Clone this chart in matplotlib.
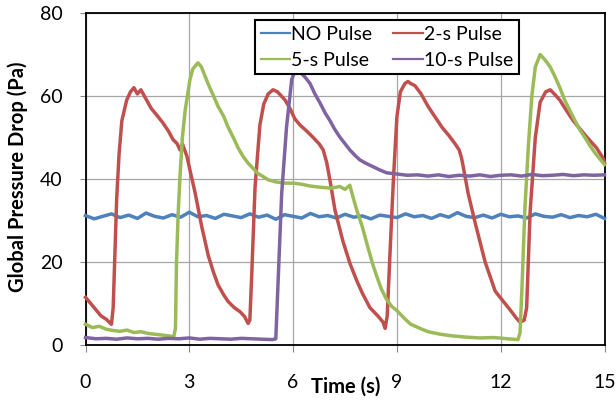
import numpy as np
import matplotlib.pyplot as plt
from matplotlib.lines import Line2D

plt.rcParams['font.family'] = ['Lato', 'DejaVu Sans']

# Pressure drop traces (Pa) against time (s)
no_pulse_t = np.arange(0, 15.01, 0.25)
no_pulse_v = [31.2, 30.4, 31.0, 31.6, 30.7, 31.3, 30.5, 31.8, 31.0, 30.6,
              31.4, 30.8, 32.0, 30.9, 31.2, 30.5, 31.5, 31.1, 30.7, 31.6,
              30.8, 31.3, 30.3, 31.4, 31.0, 30.6, 31.7, 30.9, 31.2, 30.6,
              31.5, 30.8, 31.1, 30.4, 31.3, 31.0, 30.7, 31.6, 30.9, 31.2,
              30.5, 31.4, 30.8, 31.9, 31.0, 30.7, 31.3, 30.6, 31.5, 30.9,
              31.1, 30.6, 31.6, 31.0, 30.8, 31.4, 30.7, 31.2, 30.9, 31.5, 30.5]

pulse2_t = [0, 0.15, 0.3, 0.45, 0.6, 0.75, 0.8, 0.85, 0.9, 0.97, 1.05, 1.19, 1.3, 1.4,
            1.5, 1.6, 1.7, 1.8, 1.9, 2.05, 2.24, 2.4, 2.53, 2.65, 2.73, 2.8, 2.93, 3.05,
            3.16, 3.36, 3.55, 3.7, 3.83, 4.0, 4.12, 4.3, 4.47, 4.6, 4.7, 4.75, 4.8, 4.9,
            5.04, 5.15, 5.28, 5.42, 5.55, 5.77, 5.91, 6.05, 6.2, 6.4, 6.58, 6.75, 6.87,
            6.97, 7.07, 7.21, 7.44, 7.65, 7.84, 8.0, 8.22, 8.45, 8.6, 8.66, 8.72, 8.8,
            8.9, 9.0, 9.1, 9.23, 9.32, 9.4, 9.52, 9.7, 9.9, 10.1, 10.3, 10.5, 10.68,
            10.8, 10.87, 10.95, 11.06, 11.26, 11.55, 11.84, 11.98, 12.27, 12.45, 12.56,
            12.68, 12.75, 12.85, 13.0, 13.14, 13.3, 13.43, 13.55, 13.71, 13.9, 14.1,
            14.3, 14.5, 14.77, 14.96, 15.0]
pulse2_v = [11.5, 10, 8.5, 7, 6.2, 5, 9, 22, 35, 46, 54, 59, 61, 62,
            60.5, 61.5, 60, 58.5, 57, 55.5, 53.5, 51.5, 49.5, 48.5, 47, 48.5, 45.5, 41,
            37, 28.5, 21.5, 17.5, 14.5, 12, 10.5, 9, 8, 6.8, 5.2, 6, 16, 38,
            53, 58, 60.5, 61.5, 61, 59, 57, 54.5, 53, 51.5, 50, 48.5, 47,
            44, 39.5, 32.5, 25, 19.5, 15.5, 12.5, 9, 7, 5.5, 4, 7, 22,
            40, 55, 61, 63, 63.5, 63, 62.5, 60.5, 57.5, 55, 52.5, 50.5, 48.5,
            47, 45, 41.5, 36.5, 29.5, 20, 13, 11.5, 8.5, 6.5, 5.5,
            6, 9, 32, 50, 58.5, 61, 61.5, 60.5, 59, 56.5, 54,
            52, 50, 47.5, 45, 44]

pulse5_t = [0, 0.2, 0.4, 0.6, 0.8, 1.0, 1.2, 1.4, 1.6, 1.8, 2.0, 2.2, 2.4, 2.55, 2.6,
            2.63, 2.68, 2.73, 2.8, 2.88, 3.02, 3.1, 3.25, 3.35, 3.54, 3.7, 3.83, 4.0,
            4.12, 4.3, 4.41, 4.55, 4.7, 4.85, 4.99, 5.15, 5.28, 5.5, 5.77, 6.0, 6.2,
            6.5, 6.8, 7.1, 7.35, 7.5, 7.64, 7.72, 7.84, 8.0, 8.13, 8.3, 8.42, 8.55,
            8.7, 8.85, 9.0, 9.23, 9.4, 9.67, 9.9, 10.25, 10.6, 11.0, 11.4, 11.8, 12.2,
            12.5, 12.56, 12.62, 12.7, 12.8, 12.9, 13.0, 13.14, 13.3, 13.43, 13.55,
            13.71, 13.85, 14.0, 14.15, 14.29, 14.45, 14.58, 14.75, 14.9, 15.0]
pulse5_v = [5, 4.2, 4.5, 3.8, 3.5, 3.3, 3.6, 3.0, 3.2, 2.8, 2.6, 2.4, 2.2, 2.0, 4,
            20, 32, 40.5, 50, 56.5, 64, 66.5, 68, 67, 63, 60, 57.5, 55,
            52.5, 49.5, 47.5, 45.5, 43.8, 42.5, 41.3, 40.5, 39.8, 39.3, 39, 39, 38.8,
            38.3, 38, 37.8, 38.2, 37.5, 38.5, 36, 32.5, 28.5, 24.5, 19.5, 16.5, 13.5,
            11, 9.3, 8.3, 6.3, 5, 4, 3.2, 2.6, 2.2, 1.9, 1.7, 1.8, 1.5,
            1.3, 3, 15, 33, 48, 60, 67, 70, 68.5, 67, 65,
            62, 59, 56.5, 54, 51.8, 49.8, 48, 46, 44.5, 43.5]

pulse10_t = [0, 0.3, 0.6, 0.9, 1.2, 1.5, 1.8, 2.1, 2.4, 2.7, 3.0, 3.3, 3.6, 3.9, 4.2,
             4.5, 4.8, 5.1, 5.4, 5.5, 5.57, 5.67, 5.81, 5.96, 6.08, 6.2, 6.35, 6.49,
             6.63, 6.78, 6.92, 7.07, 7.2, 7.36, 7.5, 7.64, 7.8, 7.93, 8.1, 8.3, 8.5,
             8.7, 9.0, 9.3, 9.6, 9.9, 10.2, 10.5, 10.8, 11.1, 11.4, 11.7, 12.0, 12.3,
             12.6, 12.9, 13.2, 13.5, 13.8, 14.1, 14.4, 14.7, 15.0]
pulse10_v = [1.8, 1.5, 1.6, 1.4, 1.7, 1.5, 1.6, 1.4, 1.6, 1.5, 1.7, 1.4, 1.6, 1.5, 1.4,
             1.6, 1.5, 1.4, 1.3, 1.5, 16, 36.5, 52.5, 64, 66.5, 65.8, 64.5, 63,
             60.5, 58.3, 56, 54, 52, 50, 48.5, 47, 45.6, 44.6, 43.8, 43, 42.2,
             41.5, 41.2, 40.9, 41, 40.7, 41, 40.6, 40.9, 40.7, 41, 40.6, 40.9, 41,
             40.7, 41.1, 40.8, 40.9, 41.1, 40.8, 41, 40.9, 41]

labels = ['NO Pulse', '2-s Pulse', '5-s Pulse', '10-s Pulse']
colors = ['#4F81BD', '#C0504D', '#9BBB59', '#8064A2']

fig = plt.figure(figsize=(6.16, 4.0), dpi=100)
ax = fig.add_axes([85.5 / 616, 55 / 400, 519 / 616, 332 / 400])

series = [(no_pulse_t, no_pulse_v), (pulse2_t, pulse2_v),
          (pulse5_t, pulse5_v), (pulse10_t, pulse10_v)]
for (t, v), c in zip(series, colors):
    ax.plot(t, v, color=c, lw=2.5, solid_joinstyle='round', clip_on=False, zorder=3)

ax.set_xlim(0, 15)
ax.set_ylim(0, 80)
ax.set_xticks(np.arange(0, 16, 3))
ax.set_yticks(np.arange(0, 81, 20))
ax.grid(True, color='#a6a6a6', lw=0.9)
ax.set_axisbelow(True)
for s in ax.spines.values():
    s.set_color('black')
    s.set_linewidth(1.3)
ax.tick_params(axis='x', length=5, color='#888888', pad=16, labelsize=14)
ax.tick_params(axis='y', length=4.5, color='#888888', pad=12, labelsize=14)

fig.text(346 / 616, 1 - 387 / 400, 'Time (s)', ha='center', va='center',
         fontsize=14.5, fontweight='bold')
fig.text(18 / 616, 1 - 177 / 400, 'Global Pressure Drop (Pa)', ha='center',
         va='center', rotation=90, fontsize=14.5, fontweight='bold')

handles = [Line2D([], [], color=c, lw=1.6) for c in colors]
# column-wise order so rows read NO/2-s and 5-s/10-s
order = [0, 2, 1, 3]
leg = ax.legend([handles[i] for i in order], [labels[i] for i in order], ncol=2,
                loc='upper left', bbox_to_anchor=(0.3266, 0.979), borderaxespad=0,
                fancybox=False, edgecolor='black', framealpha=1, fontsize=14,
                handlelength=1.5, handletextpad=0.05, columnspacing=1.1,
                labelspacing=0.45, borderpad=0.3)
leg.get_frame().set_linewidth(1.5)

fig.savefig('out.png', dpi=100)
